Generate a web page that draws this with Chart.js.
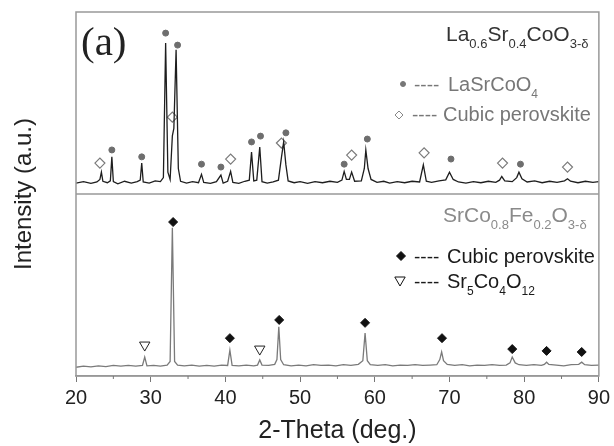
<!DOCTYPE html>
<html>
<head>
<meta charset="utf-8">
<script src="https://cdn.jsdelivr.net/npm/chart.js@4"></script>
<style>
  html, body { margin: 0; background: #fff; }
</style>
</head>
<body>
<canvas id="xrd" width="614" height="446"></canvas>
<script>
// La0.6Sr0.4CoO3-d pattern (upper trace, offset by +50)
const lscTheta = [20.0, 21.0, 22.0, 22.8, 23.2, 23.4, 23.6, 24.2, 24.6, 24.8, 25.0, 25.6, 26.5, 27.4, 28.2, 28.6, 28.8, 29.0,
  29.8, 30.6, 31.3, 31.7, 32.0, 32.3, 32.6, 32.9, 33.1, 33.4, 33.7, 34.0, 34.8, 35.6, 36.4, 36.8, 37.1, 38.0, 38.8, 39.4,
  39.7, 40.3, 40.7, 41.0, 41.8, 42.6, 43.2, 43.5, 43.8, 44.2, 44.6, 44.9, 45.6, 46.4, 47.1, 47.5, 47.8, 48.1, 48.4, 49.2,
  50.0, 51.0, 52.0, 53.0, 54.0, 55.0, 55.6, 55.9, 56.2, 56.6, 56.9, 57.3, 58.2, 58.6, 58.8, 59.1, 59.5, 60.3, 61.2, 62.0,
  63.0, 64.0, 65.0, 66.0, 66.5, 66.9, 67.6, 68.6, 69.5, 70.0, 70.5, 71.2, 72.2, 73.2, 74.2, 75.2, 76.2, 76.7, 77.0, 77.4,
  78.4, 79.0, 79.3, 79.7, 80.4, 81.4, 82.4, 83.4, 84.4, 85.4, 85.8, 86.2, 87.2, 88.2, 89.2, 90.0];
const lscIntensity = [53.0, 53.4, 52.9, 53.3, 54.0, 56.0, 53.5, 53.1, 53.6, 60.2, 53.4, 52.8, 53.5, 53.0, 53.4, 53.8, 58.5, 53.3,
  53.0, 53.6, 53.4, 54.5, 91.5, 56.0, 54.0, 66.0, 68.0, 89.6, 57.0, 53.5, 53.0, 53.4, 53.1, 55.4, 53.2, 52.9, 53.4, 55.2,
  53.0, 53.5, 56.2, 53.2, 52.9, 53.5, 53.8, 61.5, 53.6, 53.8, 62.9, 53.4, 53.0, 53.3, 53.8, 60.0, 64.3, 58.0, 53.6, 53.1,
  53.4, 52.9, 53.4, 53.1, 53.5, 53.2, 53.8, 56.2, 54.0, 54.0, 56.0, 53.5, 53.6, 57.0, 62.1, 57.0, 54.0, 53.2, 53.5, 53.0,
  53.4, 53.1, 53.5, 53.3, 58.0, 53.5, 53.2, 53.6, 53.9, 56.0, 54.0, 53.3, 53.0, 53.4, 53.1, 53.5, 53.2, 53.8, 54.8, 53.6,
  53.4, 54.5, 56.0, 54.2, 53.3, 53.6, 53.1, 53.5, 53.2, 53.6, 54.2, 53.5, 53.1, 53.5, 53.2, 53.4];

// SrCo0.8Fe0.2O3-d pattern (lower trace)
const scfTheta = [20.0, 21.0, 22.0, 23.0, 24.0, 25.0, 26.0, 27.0, 28.0, 28.9, 29.2, 29.5, 30.4, 31.3, 32.2, 32.6, 32.9, 33.2,
  33.6, 34.5, 35.5, 36.5, 37.5, 38.5, 39.5, 40.3, 40.6, 40.9, 41.8, 42.8, 43.8, 44.3, 44.6, 44.9, 45.8, 46.6, 46.9, 47.15,
  47.4, 47.8, 48.8, 49.8, 50.8, 51.8, 52.8, 53.8, 54.8, 55.8, 56.8, 57.8, 58.4, 58.7, 59.0, 59.4, 60.4, 61.4, 62.4, 63.4,
  64.4, 65.4, 66.4, 67.4, 68.3, 68.7, 68.95, 69.2, 69.7, 70.7, 71.7, 72.7, 73.7, 74.7, 75.7, 76.7, 77.6, 78.1, 78.4, 78.8,
  79.3, 80.3, 81.3, 82.3, 82.7, 83.0, 83.3, 84.3, 85.3, 86.3, 87.3, 87.7, 88.1, 89.0, 90.0];
const scfIntensity = [2.4, 2.7, 2.5, 2.8, 2.6, 2.9, 2.7, 2.9, 2.7, 2.9, 5.2, 2.8, 2.9, 2.7, 3.0, 4.0, 40.7, 4.0,
  3.0, 2.8, 3.0, 2.7, 2.9, 2.7, 3.0, 2.9, 7.1, 2.9, 2.8, 3.0, 2.8, 3.0, 4.4, 3.0, 2.9, 3.2, 4.5, 13.5,
  4.5, 3.1, 2.8, 3.0, 2.8, 3.1, 2.9, 3.0, 2.8, 3.1, 2.9, 3.2, 4.2, 11.8, 4.2, 3.1, 2.9, 3.1, 2.8, 3.0,
  2.9, 3.1, 2.9, 3.0, 3.1, 4.5, 6.6, 4.2, 3.2, 2.9, 3.1, 2.8, 3.0, 2.9, 3.1, 2.9, 3.0, 3.6, 5.2, 3.6,
  3.1, 2.9, 3.1, 2.9, 3.2, 3.8, 3.2, 3.0, 2.8, 3.1, 3.2, 3.8, 3.1, 2.9, 3.0];

// phase markers
const lscPhaseTheta = [24.8, 28.8, 32.0, 33.6, 36.8, 39.4, 43.5, 44.7, 48.1, 55.9, 59.0, 70.2, 79.5];
const lscPhaseMark = [62.1, 60.2, 94.2, 90.9, 58.2, 57.4, 64.3, 65.9, 66.8, 58.2, 65.1, 59.6, 58.2];
const lscCubicTheta = [23.2, 32.9, 40.7, 47.5, 56.9, 66.6, 77.1, 85.8];
const lscCubicMark = [58.5, 71.1, 59.6, 64.0, 60.7, 61.3, 58.5, 57.4];
const scfCubicTheta = [33.0, 40.6, 47.2, 58.7, 69.0, 78.4, 83.0, 87.7];
const scfCubicMark = [42.3, 10.4, 15.4, 14.6, 10.4, 7.4, 6.9, 6.6];
const scfSr5Theta = [29.2, 44.6];
const scfSr5Mark = [8.5, 7.4];

const xTicks = [20, 30, 40, 50, 60, 70, 80, 90];
const minorTicks = [25, 35, 45, 55, 65, 75, 85];

const pts = (xs, ys) => xs.map((x, i) => ({ x: x, y: ys[i] }));

const SANS = "'Liberation Sans', Arial, sans-serif";
Chart.defaults.font.family = SANS;

// text with subscripts: parts = [[text, isSub], ...]
function drawRich(ctx, x, y, parts, size, color) {
  ctx.fillStyle = color;
  ctx.textBaseline = 'alphabetic';
  ctx.textAlign = 'left';
  parts.forEach(p => {
    const sub = p[1];
    ctx.font = (sub ? Math.round(size * 0.6) : size) + 'px ' + SANS;
    ctx.fillText(p[0], x, sub ? y + size * 0.33 : y);
    x += ctx.measureText(p[0]).width;
  });
}

const decor = {
  id: 'decor',
  afterDatasetsDraw(chart) {
    const ctx = chart.ctx;
    const a = chart.chartArea;
    const xs = chart.scales.x, ys = chart.scales.y;
    ctx.save();
    ctx.strokeStyle = '#999';
    ctx.lineWidth = 1.5;
    ctx.strokeRect(a.left, a.top, a.right - a.left, a.bottom - a.top);
    const yd = ys.getPixelForValue(50);
    ctx.beginPath();
    ctx.moveTo(a.left, yd);
    ctx.lineTo(a.right, yd);
    ctx.stroke();
    ctx.lineWidth = 1;
    ctx.strokeStyle = '#777';
    minorTicks.forEach(t => {
      const px = xs.getPixelForValue(t);
      ctx.beginPath();
      ctx.moveTo(px, a.bottom);
      ctx.lineTo(px, a.bottom + 3);
      ctx.stroke();
    });
    ctx.restore();
  },
  afterDraw(chart) {
    const ctx = chart.ctx;
    const H = Chart.helpers;
    ctx.save();
    ctx.fillStyle = '#222';
    ctx.font = "41px 'Liberation Serif', 'Times New Roman', serif";
    ctx.textBaseline = 'alphabetic';
    ctx.fillText('(a)', 81, 55);

    drawRich(ctx, 446, 41, [['La', 0], ['0.6', 1], ['Sr', 0], ['0.4', 1], ['CoO', 0], ['3-\u03b4', 1]], 21, '#333');

    ctx.fillStyle = '#777';
    ctx.strokeStyle = '#777';
    H.drawPoint(ctx, { pointStyle: 'circle', radius: 2.5, borderWidth: 1 }, 403, 84);
    drawRich(ctx, 414, 91, [['----', 0]], 19, '#777');
    drawRich(ctx, 448, 91, [['LaSrCoO', 0], ['4', 1]], 20, '#777');

    ctx.fillStyle = '#fff';
    ctx.strokeStyle = '#888';
    ctx.lineWidth = 1;
    H.drawPoint(ctx, { pointStyle: 'rectRot', radius: 4, borderWidth: 1 }, 399, 115);
    drawRich(ctx, 412, 121, [['----', 0]], 19, '#777');
    drawRich(ctx, 443, 121, [['Cubic perovskite', 0]], 20, '#777');

    drawRich(ctx, 443, 222, [['SrCo', 0], ['0.8', 1], ['Fe', 0], ['0.2', 1], ['O', 0], ['3-\u03b4', 1]], 21, '#8a8a8a');

    ctx.fillStyle = '#111';
    ctx.strokeStyle = '#111';
    H.drawPoint(ctx, { pointStyle: 'rectRot', radius: 4.5, borderWidth: 1 }, 401, 256);
    drawRich(ctx, 414, 263, [['----', 0]], 19, '#1a1a1a');
    drawRich(ctx, 447, 263, [['Cubic perovskite', 0]], 20, '#1a1a1a');

    ctx.fillStyle = '#fff';
    ctx.strokeStyle = '#111';
    H.drawPoint(ctx, { pointStyle: 'triangle', radius: 6, rotation: 180, borderWidth: 1 }, 400, 280);
    drawRich(ctx, 414, 288, [['----', 0]], 19, '#1a1a1a');
    drawRich(ctx, 447, 288, [['Sr', 0], ['5', 1], ['Co', 0], ['4', 1], ['O', 0], ['12', 1]], 20, '#1a1a1a');
    ctx.restore();
  }
};

new Chart(document.getElementById('xrd'), {
  type: 'scatter',
  data: {
    datasets: [
      { data: pts(lscTheta, lscIntensity), showLine: true, borderColor: '#1e1e1e', borderWidth: 1.3,
        pointRadius: 0, tension: 0 },
      { data: pts(scfTheta, scfIntensity), showLine: true, borderColor: '#7a7a7a', borderWidth: 1.3,
        pointRadius: 0, tension: 0 },
      { data: pts(lscPhaseTheta, lscPhaseMark), pointStyle: 'circle', pointRadius: 3,
        backgroundColor: '#6e6e6e', borderColor: '#6e6e6e', borderWidth: 1 },
      { data: pts(lscCubicTheta, lscCubicMark), pointStyle: 'rectRot', pointRadius: 5,
        backgroundColor: '#fff', borderColor: '#7a7a7a', borderWidth: 1.2 },
      { data: pts(scfCubicTheta, scfCubicMark), pointStyle: 'rectRot', pointRadius: 4.5,
        backgroundColor: '#111', borderColor: '#111', borderWidth: 1 },
      { data: pts(scfSr5Theta, scfSr5Mark), pointStyle: 'triangle', rotation: 180, pointRadius: 6,
        backgroundColor: '#fff', borderColor: '#222', borderWidth: 1 }
    ]
  },
  options: {
    responsive: false,
    animation: false,
    devicePixelRatio: 1,
    layout: { padding: { top: 12, right: 14, left: 0, bottom: 0 } },
    plugins: { legend: { display: false }, tooltip: { enabled: false } },
    scales: {
      x: {
        type: 'linear', min: 20, max: 90,
        afterBuildTicks: s => { s.ticks = xTicks.map(v => ({ value: v })); },
        ticks: { color: '#222', font: { size: 20 }, padding: 4, maxRotation: 0 },
        grid: { drawOnChartArea: false, tickLength: 6, color: '#777', lineWidth: 1 },
        border: { color: '#999', width: 1.5 },
        title: { display: true, text: '2-Theta (deg.)', color: '#222', font: { size: 25 }, padding: { top: 0, bottom: 0 } },
        afterFit: s => { s.height = 70; }
      },
      y: {
        min: 0, max: 100,
        ticks: { display: false },
        grid: { display: false },
        border: { display: false },
        title: { display: true, text: 'Intensity (a.u.)', color: '#222', font: { size: 24 }, padding: { top: 10, bottom: 0 } },
        afterFit: s => { s.width = 76; }
      }
    }
  },
  plugins: [decor]
});
</script>
</body>
</html>
